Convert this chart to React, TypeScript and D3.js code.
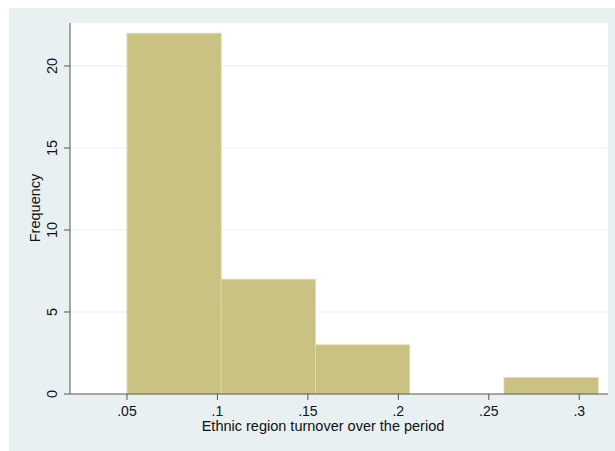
import React from "react";
import * as d3 from "d3";

// Histogram bins (lower edges) and frequencies
const binEdges = [0.05, 0.1021, 0.1542, 0.2063, 0.2584, 0.3105];
const frequencies = [22, 7, 3, 0, 1];
const xTicks = [0.05, 0.1, 0.15, 0.2, 0.25, 0.3];
const xTickLabels = [".05", ".1", ".15", ".2", ".25", ".3"];
const yTicks = [0, 5, 10, 15, 20];
const xTitle = "Ethnic region turnover over the period";
const yTitle = "Frequency";

const W = 615;
const H = 451;
const plot = { left: 70, right: 608, top: 23, bottom: 394 };

const BG = "#E8F0F2";
const GRID = "#EAF2F3";
const BAR = "#C9C283";
const BAR_EDGE = "#E2DDAE";
const AXIS = "#555555";
const FONT = "'Liberation Sans', Arial, Helvetica, sans-serif";

export default function App() {
  const x = d3.scaleLinear().domain([0.0185, 0.3159]).range([plot.left, plot.right]);
  const y = d3.scaleLinear().domain([0, 22.62]).range([plot.bottom, plot.top]);

  const bins = frequencies.map((f, i) => ({ x0: binEdges[i], x1: binEdges[i + 1], f }));

  return (
    <svg
      width={W}
      height={H}
      style={{ position: "absolute", left: 0, top: 0, background: "#ffffff" }}
      fontFamily={FONT}
    >
      <rect x={9} y={8} width={W - 9} height={H - 8} fill={BG} />
      <rect x={plot.left} y={plot.top} width={plot.right - plot.left} height={plot.bottom - plot.top} fill="#ffffff" />

      {yTicks.filter((t) => t > 0).map((t) => (
        <line key={`g${t}`} x1={plot.left} x2={plot.right} y1={y(t)} y2={y(t)} stroke={GRID} strokeWidth={1.2} />
      ))}

      {bins.filter((b) => b.f > 0).map((b, i) => (
        <rect
          key={`b${i}`}
          x={x(b.x0)}
          y={y(b.f)}
          width={x(b.x1) - x(b.x0)}
          height={y(0) - y(b.f)}
          fill={BAR}
          stroke={BAR_EDGE}
          strokeWidth={0.8}
        />
      ))}

      {/* y axis */}
      <line x1={plot.left} x2={plot.left} y1={plot.top} y2={plot.bottom} stroke={AXIS} strokeWidth={1} />
      {yTicks.map((t) => (
        <g key={`yt${t}`}>
          <line x1={plot.left - 6} x2={plot.left} y1={y(t)} y2={y(t)} stroke={AXIS} strokeWidth={1} />
          <text
            transform={`translate(${56.5},${y(t)}) rotate(-90)`}
            textAnchor="middle"
            fontSize={14.5}
            fill="#111"
          >
            {t}
          </text>
        </g>
      ))}
      <text transform={`translate(${40},${208}) rotate(-90)`} textAnchor="middle" fontSize={14.5} fill="#111">
        {yTitle}
      </text>

      {/* x axis */}
      <line x1={plot.left} x2={plot.right} y1={plot.bottom} y2={plot.bottom} stroke={AXIS} strokeWidth={1} />
      {xTicks.map((t, i) => (
        <g key={`xt${t}`}>
          <line x1={x(t)} x2={x(t)} y1={plot.bottom} y2={plot.bottom + 6} stroke={AXIS} strokeWidth={1} />
          <text x={x(t)} y={415.5} textAnchor="middle" fontSize={14} fill="#111">
            {xTickLabels[i]}
          </text>
        </g>
      ))}
      <text x={323} y={431} textAnchor="middle" fontSize={14.5} fill="#111">
        {xTitle}
      </text>
    </svg>
  );
}
